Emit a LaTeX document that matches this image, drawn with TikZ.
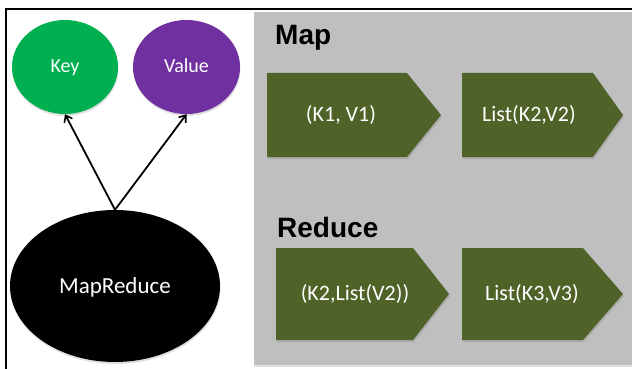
\documentclass[tikz,border=0pt]{standalone}
\usepackage{fontspec}
\setmainfont{Carlito}
\newfontfamily\headfont{Liberation Sans}
\usetikzlibrary{shapes.geometric,shadows,arrows.meta}

\definecolor{keygreen}{HTML}{00B050}
\definecolor{valpurple}{HTML}{7030A0}
\definecolor{olive}{HTML}{4F6228}
\definecolor{panelgray}{HTML}{BFBFBF}

\tikzset{
  oval/.style={ellipse, inner sep=0pt, text=white,
    drop shadow={opacity=0.25, shadow xshift=0.5pt, shadow yshift=-2pt}},
  ovaltext/.style={text=white, inner sep=0pt, text height=0.64em, text depth=0pt},
  chevfill/.style={fill=olive,
    drop shadow={opacity=0.3, shadow xshift=1pt, shadow yshift=-2pt}},
  chevtext/.style={text=white, font=\fontsize{22}{26}\selectfont, inner sep=0pt},
  heading/.style={anchor=base west, inner sep=0pt,
    font=\headfont\bfseries\fontsize{28}{32}\selectfont},
  link/.style={draw=black, line width=1.8pt,
    -{Straight Barb[length=6pt, width=9pt, line width=1.6pt]}},
}

% \chevron{name}{left}{body right}{tip}{top}{bottom}{text x}{text}
\newcommand{\chevron}[8]{%
  \path[chevfill] (#2,#5) -- (#3,#5) -- (#4,{(#5+#6)/2}) -- (#3,#6) -- (#2,#6) -- cycle;
  \node[chevtext] (#1) at (#7,{(#5+#6)/2}) {#8};
}

\begin{document}
\begin{tikzpicture}[x=1pt, y=-1pt]
  \useasboundingbox (0,0) rectangle (632,369);
  \fill[white] (0,0) rectangle (632,369);

  % outer frame (top and left edges)
  \draw[line width=2pt] (6,369) -- (6,9) -- (632,9);

  % grey panel holding the Map and Reduce rows
  \fill[panelgray, drop shadow={opacity=0.25, shadow xshift=0pt, shadow yshift=-2pt}]
    (254,12) rectangle (632,365);

  % concept ellipses
  \node[oval, fill=keygreen, minimum width=106pt, minimum height=94pt] (key) at (65,67) {};
  \node[oval, fill=valpurple, minimum width=107pt, minimum height=94pt] (value) at (186.5,67) {};
  \node[oval, fill=black, minimum width=210pt, minimum height=152pt] (mr) at (115,286) {};
  \node[ovaltext, font=\fontsize{20}{24}\selectfont] (keylbl) at (65,69) {Key};
  \node[ovaltext, font=\fontsize{20}{24}\selectfont] (vallbl) at (186.5,69) {Value};
  \node[ovaltext, font=\fontsize{23}{27}\selectfont] (mrlbl) at (115,290) {MapReduce};

  \draw[link] (mr.north) -- (key.south);
  \draw[link] (mr.north) -- (value.south);

  % Map row
  \node[heading] (maptitle) at (275,45) {Map};
  \chevron{kv1}{267}{407}{441}{73}{157}{341}{(K1, V1)}
  \chevron{list2}{462}{593}{623}{73}{157}{529}{List(K2,V2)}

  % Reduce row
  \node[heading] (redtitle) at (277,237) {Reduce};
  \chevron{klist}{276}{413}{449}{248}{340}{355}{(K2,List(V2))}
  \chevron{list3}{462}{583}{623}{248}{340}{532}{List(K3,V3)}
\end{tikzpicture}
\end{document}
